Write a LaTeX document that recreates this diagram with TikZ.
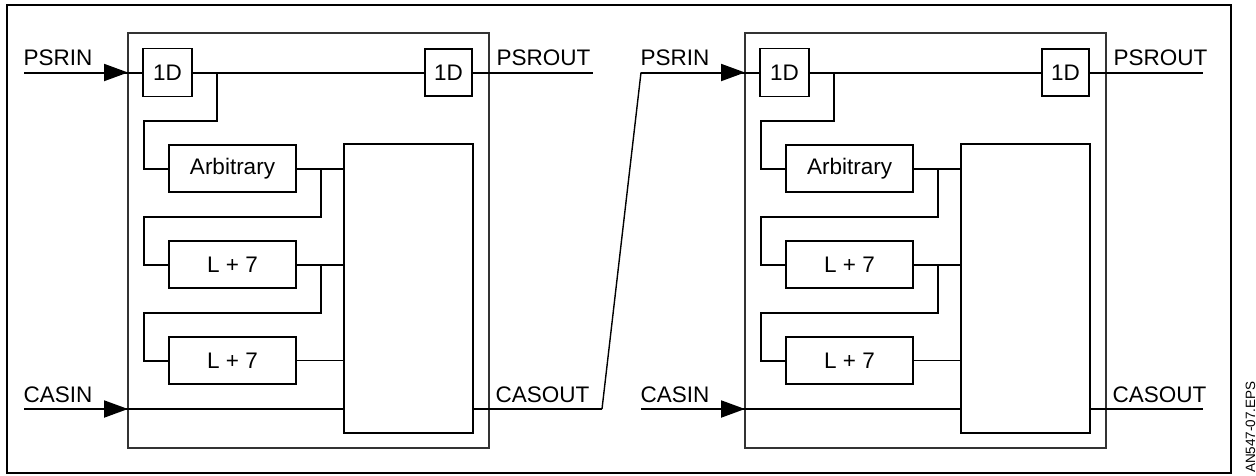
\documentclass[tikz,border=0pt]{standalone}
\usepackage{fontspec}
\setmainfont{Liberation Sans}
\usetikzlibrary{arrows.meta}
\newcommand\lbl{\fontsize{22.5}{25}\selectfont}

% One cascade stage: #1 name prefix, #2 horizontal shift,
% #3 end of the PSROUT wire, #4 end of the CASOUT wire (local x)
\newcommand\drawstage[4]{%
\begin{scope}[xshift=#2pt]
  \node[frame, minimum width=361pt, minimum height=415pt, anchor=north west] (#1-blk) at (128,33) {};
  \node[box, minimum width=49pt, minimum height=48pt] (#1-d1) at (167.5,72.5) {1D};
  \node[box, minimum width=47pt, minimum height=47pt] (#1-d2) at (448.5,72.5) {1D};
  \node[box, minimum width=127pt, minimum height=47pt] (#1-arb) at (232.5,168.5) {Arbitrary};
  \node[box, minimum width=127pt, minimum height=47pt] (#1-la) at (232.5,264.5) {L + 7};
  \node[box, minimum width=127pt, minimum height=47pt] (#1-lb) at (232.5,360.5) {L + 7};
  \node[box, minimum width=129pt, minimum height=289pt] (#1-big) at (408.5,288.5) {};
  \coordinate (#1-psrin) at (24,72.5);
  \coordinate (#1-casin) at (24,409);
  \coordinate (#1-psrout) at (#3,72.5);
  \coordinate (#1-casout) at (#4,409);
  % port labels
  \node[port] (#1-psrin-t) at (23.5,65) {PSRIN};
  \node[port] (#1-casin-t) at (23.5,402) {CASIN};
  \node[port] (#1-psrout-t) at (496.5,65) {PSROUT};
  \node[port] (#1-casout-t) at (495.5,402) {CASOUT};
  % pixel stream
  \draw[wire] (#1-psrin) -- (#1-d1.west);
  \draw[feed] (#1-psrin) -- (#1-psrin -| #1-blk.west);
  \draw[wire] (#1-d1.east) -- (#1-d2.west);
  \draw[wire] (#1-d2.east) -- (#1-psrout);
  % delay taps
  \draw[wire] (#1-d1.east) ++(25,0) |- (144,121) |- (#1-arb.west);
  \draw[wire] (#1-arb.east) -- (#1-arb.east -| #1-big.west);
  \draw[wire] (#1-arb.east) ++(25,0) |- (144,217) |- (#1-la.west);
  \draw[wire] (#1-la.east) -- (#1-la.east -| #1-big.west);
  \draw[wire] (#1-la.east) ++(25,0) |- (144,313) |- (#1-lb.west);
  \draw[thin wire] (#1-lb.east) -- (#1-lb.east -| #1-big.west);
  % cascade path
  \draw[wire] (#1-casin) -- (#1-casin -| #1-big.west);
  \draw[feed] (#1-casin) -- (#1-casin -| #1-blk.west);
  \draw[wire] (#1-big.east |- #1-casin) -- (#1-casout);
\end{scope}}

\begin{document}
\begin{tikzpicture}[x=1pt,y=-1pt,
  wire/.style={line width=2pt},
  thin wire/.style={line width=1.4pt},
  box/.style={draw, line width=1.9pt, inner sep=0pt, outer sep=0pt, font=\lbl},
  frame/.style={draw, line width=1.7pt, draw=black!80, inner sep=0pt, outer sep=0pt},
  port/.style={anchor=base west, inner sep=0pt, font=\lbl},
  feed/.style={wire, -{Triangle[length=24pt,width=17pt]}},
]
\useasboundingbox (0,0) rectangle (1256,475);
\node[draw, line width=2pt, minimum width=1224pt, minimum height=468pt,
      inner sep=0pt, outer sep=0pt, anchor=north west] (border) at (7,5) {};

\drawstage{a}{0}{593}{602}
\drawstage{b}{617}{586}{586}

% cascade link between the two stages
\draw[thin wire] (a-casout) -- (b-psrin);

\node[rotate=90, anchor=base west, inner sep=0pt, font=\fontsize{13.5}{15}\selectfont]
  (tag) at (1255,473) {AN547-07.EPS};
\end{tikzpicture}
\end{document}
